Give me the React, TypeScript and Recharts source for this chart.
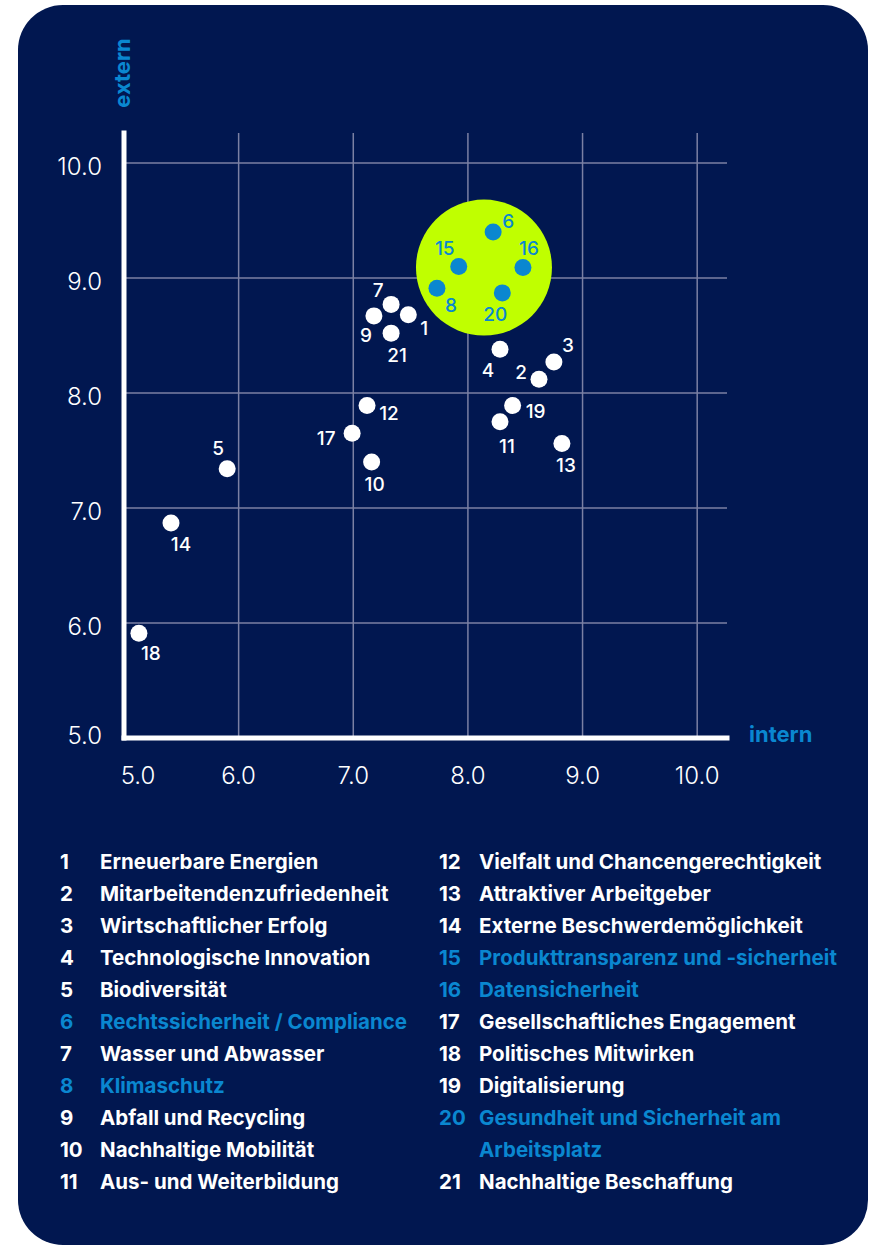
import React from "react";
import { ScatterChart, Scatter, XAxis, YAxis, CartesianGrid } from "recharts";

// topic numbers, names and scores (x = intern, y = extern)
const topicIds = [1, 2, 3, 4, 5, 6, 7, 8, 9, 10, 11, 12, 13, 14, 15, 16, 17, 18, 19, 20, 21];
const topicNames = [
  "Erneuerbare Energien",
  "Mitarbeitendenzufriedenheit",
  "Wirtschaftlicher Erfolg",
  "Technologische Innovation",
  "Biodiversität",
  "Rechtssicherheit / Compliance",
  "Wasser und Abwasser",
  "Klimaschutz",
  "Abfall und Recycling",
  "Nachhaltige Mobilität",
  "Aus- und Weiterbildung",
  "Vielfalt und Chancengerechtigkeit",
  "Attraktiver Arbeitgeber",
  "Externe Beschwerdemöglichkeit",
  "Produkttransparenz und -sicherheit",
  "Datensicherheit",
  "Gesellschaftliches Engagement",
  "Politisches Mitwirken",
  "Digitalisierung",
  "Gesundheit und Sicherheit am\nArbeitsplatz",
  "Nachhaltige Beschaffung",
];
const internScores = [7.48, 8.62, 8.75, 8.28, 5.9, 8.22, 7.33, 7.73, 7.18, 7.16, 8.28, 7.12, 8.82, 5.41, 7.92, 8.48, 6.99, 5.13, 8.39, 8.3, 7.33];
const externScores = [8.68, 8.12, 8.27, 8.38, 7.34, 9.4, 8.77, 8.91, 8.67, 7.4, 7.75, 7.89, 7.56, 6.87, 9.1, 9.09, 7.65, 5.91, 7.89, 8.87, 8.52];
const highlightedIds = [6, 8, 15, 16, 20];
const axisTicks = [5, 6, 7, 8, 9, 10];
const gridValues = [6, 7, 8, 9, 10];
const focusCenter = [{ x: 8.14, y: 9.09 }];

const NAVY = "#011750";
const BLUE = "#0a87d0";
const LIME = "#c0ff00";
const FONT = "Inter, 'Open Sans', sans-serif";

// where each number sits next to its dot
const labelOffsets: Record<number, [number, number]> = {
  1: [16, 14], 2: [-18, -7], 3: [14, -16], 4: [-12, 21], 5: [-9, -20], 6: [15, -10], 7: [-13, -14],
  8: [14, 17], 9: [-8, 20], 10: [3, 23], 11: [7, 25], 12: [22, 8], 13: [4, 22], 14: [10, 22],
  15: [-14, -18], 16: [6, -19], 17: [-26, 5], 18: [12, 20], 19: [23, 6], 20: [-7, 22], 21: [6, 22],
};

const points = topicIds.map((id, i) => ({ id, x: internScores[i], y: externScores[i] }));
const normalPoints = points.filter((p) => !highlightedIds.includes(p.id));
const focusPoints = points.filter((p) => highlightedIds.includes(p.id));

const makeDot = (color: string) => (props: any) => {
  const { cx, cy, payload } = props;
  const [dx, dy] = labelOffsets[payload.id] || [12, 12];
  return (
    <g>
      <circle cx={cx} cy={cy} r={8.5} fill={color} />
      <text
        x={cx + dx}
        y={cy + dy}
        textAnchor="middle"
        dominantBaseline="central"
        fill={color}
        fontSize={19}
        fontWeight={500}
        fontFamily={FONT}
      >
        {payload.id}
      </text>
    </g>
  );
};

const XTick = ({ x, y, payload }: any) => (
  <text
    x={x + (payload.value === 5 ? 14 : 0)}
    y={y + 29}
    textAnchor="middle"
    dominantBaseline="central"
    fill="#ffffff"
    fontSize={24}
    fontWeight={300}
    fontFamily={FONT}
  >
    {payload.value.toFixed(1)}
  </text>
);

const YTick = ({ x, y, payload }: any) => (
  <text
    x={x - 14}
    y={y + (payload.value === 5 ? -3 : 4)}
    textAnchor="end"
    dominantBaseline="central"
    fill="#ffffff"
    fontSize={24}
    fontWeight={300}
    fontFamily={FONT}
  >
    {payload.value.toFixed(1)}
  </text>
);

const LegendColumn = ({ ids, left }: { ids: number[]; left: number }) => (
  <div style={{ position: "absolute", left, top: 841 }}>
    {ids.map((id) => {
      const color = highlightedIds.includes(id) ? BLUE : "#ffffff";
      return (
        <div key={id} style={{ display: "flex", lineHeight: "32px", color }}>
          <span style={{ width: 40, flexShrink: 0 }}>{id}</span>
          <span style={{ whiteSpace: "pre" }}>{topicNames[id - 1]}</span>
        </div>
      );
    })}
  </div>
);

export default function App() {
  return (
    <>
      <style>{`body{margin:0;overflow:hidden;background:#fff}`}</style>
      <div
        style={{
          position: "absolute",
          left: 18,
          top: 5,
          width: 850,
          height: 1240,
          background: NAVY,
          borderRadius: 45,
          overflow: "hidden",
          fontFamily: FONT,
          fontSize: 20.5,
          fontWeight: 700,
        }}
      >
        <ScatterChart width={850} height={820} margin={{ top: 128, right: 141, bottom: 37, left: 26 }}>
          <CartesianGrid
            stroke="#7b80a3"
            strokeWidth={1.5}
            horizontalValues={gridValues}
            verticalValues={gridValues}
          />
          <XAxis
            type="number"
            dataKey="x"
            domain={[5, 10.26]}
            ticks={axisTicks}
            allowDataOverflow
            height={50}
            tickLine={false}
            axisLine={{ stroke: "#ffffff", strokeWidth: 5, strokeLinecap: "square" }}
            tick={<XTick />}
          />
          <YAxis
            type="number"
            dataKey="y"
            domain={[5, 10.26]}
            ticks={axisTicks}
            allowDataOverflow
            width={80}
            tickLine={false}
            axisLine={{ stroke: "#ffffff", strokeWidth: 5, strokeLinecap: "square" }}
            tick={<YTick />}
          />
          <Scatter
            data={focusCenter}
            isAnimationActive={false}
            shape={(p: any) => <circle cx={p.cx} cy={p.cy} r={68} fill={LIME} />}
          />
          <Scatter data={normalPoints} isAnimationActive={false} shape={makeDot("#ffffff")} />
          <Scatter data={focusPoints} isAnimationActive={false} shape={makeDot(BLUE)} />
        </ScatterChart>

        <div
          style={{
            position: "absolute",
            left: 104,
            top: 68,
            transform: "translate(-50%, -50%) rotate(-90deg)",
            color: BLUE,
            fontSize: 22,
            fontWeight: 700,
          }}
        >
          extern
        </div>
        <div
          style={{
            position: "absolute",
            left: 731,
            top: 729,
            transform: "translateY(-50%)",
            color: BLUE,
            fontSize: 22,
            fontWeight: 700,
          }}
        >
          intern
        </div>

        <LegendColumn ids={topicIds.slice(0, 11)} left={42} />
        <LegendColumn ids={topicIds.slice(11)} left={421} />
      </div>
    </>
  );
}
